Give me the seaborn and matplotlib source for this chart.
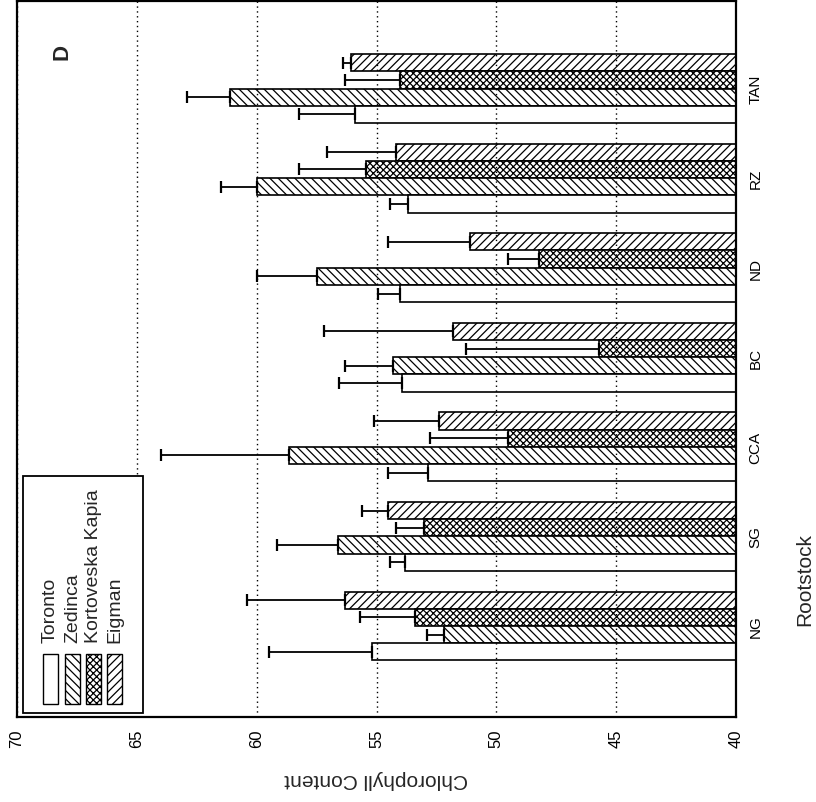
import numpy as np
import pandas as pd
import matplotlib
matplotlib.use("Agg")
import matplotlib.pyplot as plt
import seaborn as sns
from matplotlib.patches import Rectangle

# ---------------- data ----------------
rootstocks = ["NG", "SG", "CCA", "BC", "ND", "RZ", "TAN"]
varieties = ["Toronto", "Zedinca", "Kortoveska Kapia", "Eigman"]
toronto = [55.2, 53.8, 52.85, 53.95, 54.0, 53.7, 55.9]
toronto_err = [4.3, 0.65, 1.65, 2.6, 0.95, 0.75, 2.35]
zedinca = [52.2, 56.6, 58.65, 54.3, 57.5, 60.0, 61.1]
zedinca_err = [0.7, 2.55, 5.35, 2.0, 2.5, 1.5, 1.8]
kortoveska = [53.4, 53.0, 49.5, 45.7, 48.2, 55.45, 54.0]
kortoveska_err = [2.3, 1.2, 3.25, 5.55, 1.3, 2.8, 2.3]
eigman = [56.3, 54.5, 52.4, 51.8, 51.1, 54.2, 56.05]
eigman_err = [4.1, 1.1, 2.7, 5.4, 3.4, 2.85, 0.35]
value_ticks = [70, 65, 60, 55, 50, 45, 40]
y_label = "Chlorophyll Content"
x_label = "Rootstock"
panel = "D"

series = {"Toronto": (toronto, toronto_err), "Zedinca": (zedinca, zedinca_err),
          "Kortoveska Kapia": (kortoveska, kortoveska_err), "Eigman": (eigman, eigman_err)}
rows = []
for v in varieties:
    vals, errs = series[v]
    for r, val, e in zip(rootstocks, vals, errs):
        rows.append({"Rootstock": r, "Variety": v, "value": val, "err": e})
df = pd.DataFrame(rows)

# ---------------- style ----------------
sns.set_theme(style="white")
plt.rcParams["font.family"] = ["Liberation Sans", "DejaVu Sans"]
plt.rcParams["hatch.color"] = "black"
plt.rcParams["hatch.linewidth"] = 0.9

W, H = 816, 803
fig = plt.figure(figsize=(W / 100, H / 100), dpi=100)
ax_l, ax_r, ax_t, ax_b = 17, 736, 2, 718
ax = fig.add_axes([ax_l / W, 1 - ax_b / H, (ax_r - ax_l) / W, (ax_b - ax_t) / H])

order = rootstocks[::-1]                      # TAN at top ... NG at bottom
hue_order = varieties[::-1]                   # Eigman on top of each group
group_w = 0.77
sns.barplot(data=df, y="Rootstock", x="value", hue="Variety", order=order,
            hue_order=hue_order, orient="h", width=group_w, dodge=True,
            errorbar=None, palette={v: "white" for v in varieties},
            edgecolor="black", linewidth=1.2, saturation=1, legend=False, ax=ax)

hatches = {"Toronto": "", "Zedinca": "\\\\\\\\", "Kortoveska Kapia": "xxxxx", "Eigman": "////"}
bar_h = group_w / len(varieties)
err_lookup = {(r["Rootstock"], r["Variety"]): r["err"] for _, r in df.iterrows()}
ex, ey, ee = [], [], []
for p in ax.patches:
    yc = p.get_y() + p.get_height() / 2
    ci = int(round(yc))
    hi = int(round((yc - ci) / bar_h + (len(varieties) - 1) / 2))
    var = hue_order[hi]
    p.set_hatch(hatches[var])
    p.set_edgecolor("black")
    ex.append(p.get_width())
    ey.append(yc)
    ee.append(err_lookup[(order[ci], var)])
ee = np.array(ee)
ax.errorbar(ex, ey, xerr=[np.zeros_like(ee), ee], fmt="none", ecolor="black",
            elinewidth=1.3, capsize=4.5, capthick=1.6, zorder=4)

# axes
ax.set_xlim(70, 40)
ax.set_ylim(len(order) - 1 + 1.016, -0.977)
ax.set_xticks(value_ticks)
ax.set_xticklabels([str(t) for t in value_ticks], rotation=90)
ax.tick_params(axis="x", length=0, pad=8, labelsize=12, colors="black")
ax.yaxis.tick_right()
ax.tick_params(axis="y", length=0, pad=9, labelsize=11, labelrotation=90, colors="black")
for lab in ax.get_yticklabels():
    lab.set_va("center")
ax.set_xlabel("")
ax.set_ylabel("")
ax.xaxis.grid(True, linestyle=(0, (1, 2.5)), color="black", linewidth=1.0)
ax.yaxis.grid(False)
ax.set_axisbelow(False)
for s in ax.spines.values():
    s.set_visible(True)
    s.set_color("black")
    s.set_linewidth(1.6)

# texts
def fx(x):
    return x / W

def fy(y):
    return 1 - y / H

fig.text(fx(376), fy(780), y_label, rotation=180, ha="center", va="center", fontsize=15)
fig.text(fx(805), fy(580), x_label, rotation=90, ha="center", va="center", fontsize=15)
fig.text(fx(62), fy(52), panel, rotation=90, ha="center", va="center", fontsize=16,
         fontweight="bold")

# legend (drawn rotated, like the rest of the panel)
fig.add_artist(Rectangle((fx(23), fy(714)), (143 - 23) / W, (714 - 477) / H,
                         transform=fig.transFigure, facecolor="white",
                         edgecolor="black", linewidth=1.3, zorder=5))
leg_x = [43, 65, 86, 107]
for v, x0 in zip(varieties, leg_x):
    fig.add_artist(Rectangle((fx(x0), fy(705)), 15 / W, 50 / H, transform=fig.transFigure,
                             facecolor="white", edgecolor="black", linewidth=1.0,
                             hatch=hatches[v], zorder=6))
    fig.text(fx(x0 + 7.5), fy(643), v, rotation=90, ha="center", va="bottom",
             fontsize=14, zorder=7)

fig.savefig("out.png", dpi=100)
